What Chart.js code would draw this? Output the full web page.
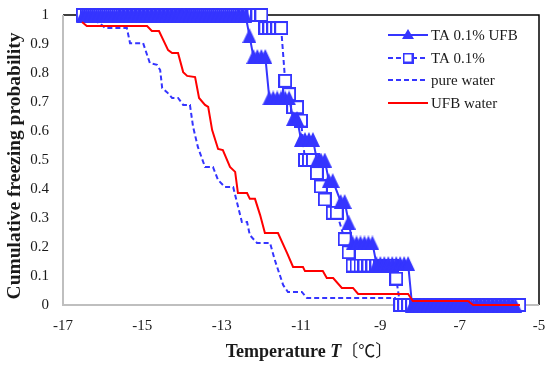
<!DOCTYPE html>
<html>
<head>
<meta charset="utf-8">
<script src="https://cdn.jsdelivr.net/npm/chart.js@4.4.1/dist/chart.umd.min.js"></script>
<style>
    html, body { margin: 0; padding: 0; background: #fff; }
    #wrap { width: 550px; height: 365px; }
</style>
</head>
<body>
<div id="wrap"><canvas id="grafico" width="550" height="365"></canvas></div>
<script>
// Curvas de probabilidade acumulada de congelamento

// TA 0.1% UFB - níveis de probabilidade e temperaturas (°C) em cada nível
const taUfbNiveis = [1, 0.929, 0.857, 0.714, 0.643, 0.571, 0.5, 0.429, 0.357, 0.286, 0.214, 0.143, 0];
const taUfbTemps = [
    [-16.5, -16.4, -16.3, -16.2, -16.1, -16.0, -15.9, -15.8, -15.7, -15.6, -15.5, -15.4, -15.3, -15.2,
     -15.1, -15.0, -14.9, -14.8, -14.7, -14.6, -14.5, -14.4, -14.3, -14.2, -14.1, -14.0, -13.9, -13.8,
     -13.7, -13.6, -13.5, -13.4, -13.3, -13.2, -13.1, -13.0, -12.9, -12.8, -12.7, -12.6, -12.5, -12.4],
    [-12.3],
    [-12.2, -12.1, -12.0, -11.9],
    [-11.8, -11.7, -11.6, -11.5, -11.4, -11.3],
    [-11.2, -11.1],
    [-11.0, -10.9, -10.8, -10.7],
    [-10.6, -10.5, -10.4],
    [-10.3, -10.2],
    [-10.0, -9.9],
    [-9.8],
    [-9.7, -9.6, -9.5, -9.4, -9.3, -9.2],
    [-9.1, -9.0, -8.9, -8.8, -8.7, -8.6, -8.5, -8.4, -8.3],
    [-8.2, -8.1, -8.0, -7.9, -7.8, -7.7, -7.6, -7.5, -7.4, -7.3, -7.2, -7.1, -7.0, -6.9, -6.8, -6.7,
     -6.6, -6.5, -6.4, -6.3, -6.2, -6.1, -6.0, -5.9, -5.8, -5.7, -5.6]
];

// TA 0.1%
const taNiveis = [1, 0.955, 0.773, 0.727, 0.682, 0.636, 0.5, 0.455, 0.409, 0.364, 0.318, 0.227, 0.182, 0.136, 0.091, 0];
const taTemps = [
    [-16.5, -16.4, -16.3, -16.2, -16.1, -16.0, -15.9, -15.8, -15.7, -15.6, -15.5, -15.4, -15.3, -15.2,
     -15.1, -15.0, -14.9, -14.8, -14.7, -14.6, -14.5, -14.4, -14.3, -14.2, -14.1, -14.0, -13.9, -13.8,
     -13.7, -13.6, -13.5, -13.4, -13.3, -13.2, -13.1, -13.0, -12.9, -12.8, -12.7, -12.6, -12.5, -12.4,
     -12.3, -12.2, -12.1, -12.0],
    [-11.9, -11.8, -11.7, -11.6, -11.5],
    [-11.4],
    [-11.3],
    [-11.2, -11.1],
    [-11.0],
    [-10.9, -10.8, -10.7],
    [-10.6],
    [-10.5],
    [-10.4],
    [-10.2, -10.1],
    [-9.9],
    [-9.8],
    [-9.7, -9.6, -9.5, -9.4, -9.3, -9.2, -9.1, -9.0, -8.9, -8.8, -8.7],
    [-8.6],
    [-8.5, -8.4, -8.3, -8.2, -8.1, -8.0, -7.9, -7.8, -7.7, -7.6, -7.5, -7.4, -7.3, -7.2, -7.1, -7.0,
     -6.9, -6.8, -6.7, -6.6, -6.5, -6.4, -6.3, -6.2, -6.1, -6.0, -5.9, -5.8, -5.7, -5.6, -5.5]
];

// pure water
const aguaPuraTemp = [-16.6, -16.07, -15.94, -15.39, -15.31, -14.98, -14.81, -14.63, -14.55, -14.5, -14.38,
    -14.25, -14.1, -13.97, -13.8, -13.72, -13.6, -13.42, -13.22, -13.09, -12.92, -12.71, -12.61, -12.49,
    -12.36, -12.29, -12.11, -11.78, -11.66, -11.45, -11.33, -10.98, -10.85, -8.63, -8.55];
const aguaPuraProb = [1, 0.972, 0.955, 0.955, 0.903, 0.903, 0.834, 0.828, 0.81, 0.748, 0.734,
    0.714, 0.714, 0.69, 0.69, 0.614, 0.545, 0.476, 0.476, 0.431, 0.407, 0.407, 0.352, 0.286,
    0.286, 0.241, 0.214, 0.214, 0.155, 0.069, 0.045, 0.045, 0.024, 0.024, 0];

// UFB water
const aguaUfbTemp = [-16.52, -16.4, -14.88, -14.76, -14.58, -14.35, -14.25, -14.1, -13.97, -13.87, -13.67,
    -13.57, -13.42, -13.34, -13.24, -13.09, -12.97, -12.79, -12.66, -12.59, -12.36, -12.29, -12.16, -12.03,
    -11.91, -11.58, -11.35, -11.2, -10.95, -10.9, -10.45, -10.35, -10.19, -9.97, -9.69, -9.56, -8.3,
    -8.18, -6.79, -6.66, -5.48];
const aguaUfbProb = [0.976, 0.962, 0.962, 0.945, 0.945, 0.879, 0.869, 0.869, 0.803, 0.79, 0.786,
    0.714, 0.69, 0.683, 0.603, 0.538, 0.534, 0.476, 0.459, 0.386, 0.386, 0.366, 0.366, 0.31,
    0.248, 0.248, 0.179, 0.131, 0.131, 0.117, 0.117, 0.093, 0.093, 0.059, 0.059, 0.038, 0.038,
    0.014, 0.014, 0, 0];

const legendas = ['TA 0.1% UFB', 'TA 0.1%', 'pure water', 'UFB water'];
const tickX = [-17, -15, -13, -11, -9, -7, -5];

const cores = {
    azul: '#3535ff',
    vermelho: '#ff0000',
    eixo: '#bfbfbf',
    texto: '#1a1a1a'
};

const fonteSerif = "'Liberation Serif', 'Times New Roman', serif";

// Marcadores desenhados à parte (centrados como no Excel)
function criarTriangulo(w, h) {
    const c = document.createElement('canvas');
    c.width = w; c.height = h;
    const g = c.getContext('2d');
    g.fillStyle = cores.azul;
    g.beginPath();
    g.moveTo(w / 2, 0);
    g.lineTo(w, h);
    g.lineTo(0, h);
    g.closePath();
    g.fill();
    return c;
}

function criarQuadrado(s, lw) {
    const c = document.createElement('canvas');
    c.width = s; c.height = s;
    const g = c.getContext('2d');
    g.fillStyle = '#fff';
    g.fillRect(0, 0, s, s);
    g.strokeStyle = cores.azul;
    g.lineWidth = lw;
    g.strokeRect(lw / 2, lw / 2, s - lw, s - lw);
    return c;
}

const triangulo = criarTriangulo(14, 15);
const quadrado = criarQuadrado(14, 2);
const trianguloLeg = criarTriangulo(12, 10);
const quadradoLeg = criarQuadrado(11, 2);

function montarPontos(niveis, temps) {
    const pontos = [];
    niveis.forEach((p, i) => {
        temps[i].forEach(t => pontos.push({ x: t, y: p }));
    });
    return pontos;
}

function parear(xs, ys) {
    return xs.map((x, i) => ({ x: x, y: ys[i] }));
}

// Moldura: eixos cinzentos, topo e direita pretos
const molduraPlugin = {
    id: 'moldura',
    beforeDatasetsDraw(chart) {
        const { ctx, chartArea: a } = chart;
        ctx.save();
        ctx.lineWidth = 1.5;
        ctx.strokeStyle = '#000';
        ctx.beginPath();
        ctx.moveTo(a.left, a.top);
        ctx.lineTo(a.right, a.top);
        ctx.lineTo(a.right, a.bottom);
        ctx.stroke();
        ctx.strokeStyle = cores.eixo;
        ctx.lineWidth = 2;
        ctx.beginPath();
        ctx.moveTo(a.left, a.top);
        ctx.lineTo(a.left, a.bottom);
        ctx.lineTo(a.right, a.bottom);
        ctx.stroke();
        ctx.restore();
    }
};

// Legenda dentro da área do gráfico + títulos dos eixos
const legendaPlugin = {
    id: 'legendaTitulos',
    afterDraw(chart) {
        const { ctx } = chart;
        ctx.save();

        const x0 = 388, x1 = 428, yItens = [35, 58, 80, 103];
        chart.data.datasets.forEach((ds, i) => {
            const y = yItens[i];
            ctx.strokeStyle = ds.borderColor;
            ctx.lineWidth = 2;
            ctx.setLineDash(ds.borderDash || []);
            ctx.beginPath();
            ctx.moveTo(x0, y);
            ctx.lineTo(x1, y);
            ctx.stroke();
            ctx.setLineDash([]);
            if (i === 0) ctx.drawImage(trianguloLeg, (x0 + x1) / 2 - 6, y - 6);
            if (i === 1) ctx.drawImage(quadradoLeg, (x0 + x1) / 2 - 5.5, y - 5.5);
            ctx.fillStyle = cores.texto;
            ctx.font = '15px ' + fonteSerif;
            ctx.textAlign = 'left';
            ctx.textBaseline = 'middle';
            ctx.fillText(ds.label, x1 + 3, y + 1);
        });

        // Título do eixo Y
        ctx.fillStyle = cores.texto;
        ctx.translate(15, 166);
        ctx.rotate(-Math.PI / 2);
        ctx.font = 'bold 19.5px ' + fonteSerif;
        ctx.textAlign = 'center';
        ctx.textBaseline = 'middle';
        ctx.fillText('Cumulative freezing probability', 0, 0);
        ctx.setTransform(1, 0, 0, 1, 0, 0);

        // Título do eixo X com T em itálico
        const partes = [
            { t: 'Temperature ', f: 'bold 18px ' + fonteSerif },
            { t: 'T', f: 'italic bold 18px ' + fonteSerif },
            { t: '〔℃〕', f: '17px "Noto Sans CJK JP", sans-serif' }
        ];
        let largura = 0;
        partes.forEach(p => { ctx.font = p.f; p.w = ctx.measureText(p.t).width; largura += p.w; });
        let x = 309 - largura / 2;
        ctx.textAlign = 'left';
        ctx.textBaseline = 'alphabetic';
        partes.forEach(p => {
            ctx.font = p.f;
            ctx.fillText(p.t, x, 357);
            x += p.w;
        });
        ctx.restore();
    }
};

// Marcas de escala invisíveis só para afastar os rótulos dos eixos
const gradeInvisivel = (comprimento) => ({
    display: true,
    drawOnChartArea: false,
    drawTicks: true,
    tickLength: comprimento,
    color: 'rgba(0,0,0,0)',
    tickColor: 'rgba(0,0,0,0)'
});

const grafico = new Chart(document.getElementById('grafico'), {
    type: 'scatter',
    data: {
        datasets: [
            {
                label: legendas[0],
                data: montarPontos(taUfbNiveis, taUfbTemps),
                showLine: true,
                borderColor: cores.azul,
                backgroundColor: cores.azul,
                borderWidth: 2,
                pointStyle: triangulo,
                pointRadius: 7,
                clip: false,
                order: 1
            },
            {
                label: legendas[1],
                data: montarPontos(taNiveis, taTemps),
                showLine: true,
                borderColor: cores.azul,
                backgroundColor: '#fff',
                borderWidth: 2,
                borderDash: [5, 3],
                pointStyle: quadrado,
                pointRadius: 7,
                clip: false,
                order: 2
            },
            {
                label: legendas[2],
                data: parear(aguaPuraTemp, aguaPuraProb),
                showLine: true,
                borderColor: cores.azul,
                borderWidth: 2,
                borderDash: [5, 3],
                pointRadius: 0,
                clip: false,
                order: 3
            },
            {
                label: legendas[3],
                data: parear(aguaUfbTemp, aguaUfbProb),
                showLine: true,
                borderColor: cores.vermelho,
                borderWidth: 2,
                pointRadius: 0,
                clip: false,
                order: 0
            }
        ]
    },
    options: {
        responsive: false,
        animation: false,
        devicePixelRatio: 1,
        layout: { padding: { top: 15, right: 11, left: 0, bottom: 0 } },
        plugins: {
            legend: { display: false },
            tooltip: { enabled: false }
        },
        scales: {
            x: {
                type: 'linear',
                min: -17,
                max: -5,
                afterFit: s => { s.height = 60; },
                afterBuildTicks: s => { s.ticks = tickX.map(v => ({ value: v })); },
                grid: gradeInvisivel(12),
                border: { display: false },
                ticks: {
                    padding: 0,
                    color: cores.texto,
                    font: { family: fonteSerif, size: 15 }
                }
            },
            y: {
                type: 'linear',
                min: 0,
                max: 1,
                afterFit: s => { s.width = 63; },
                grid: gradeInvisivel(14),
                border: { display: false },
                ticks: {
                    stepSize: 0.1,
                    padding: 0,
                    color: cores.texto,
                    font: { family: fonteSerif, size: 15 },
                    callback: v => String(Math.round(v * 10) / 10)
                }
            }
        }
    },
    plugins: [molduraPlugin, legendaPlugin]
});
</script>
</body>
</html>
